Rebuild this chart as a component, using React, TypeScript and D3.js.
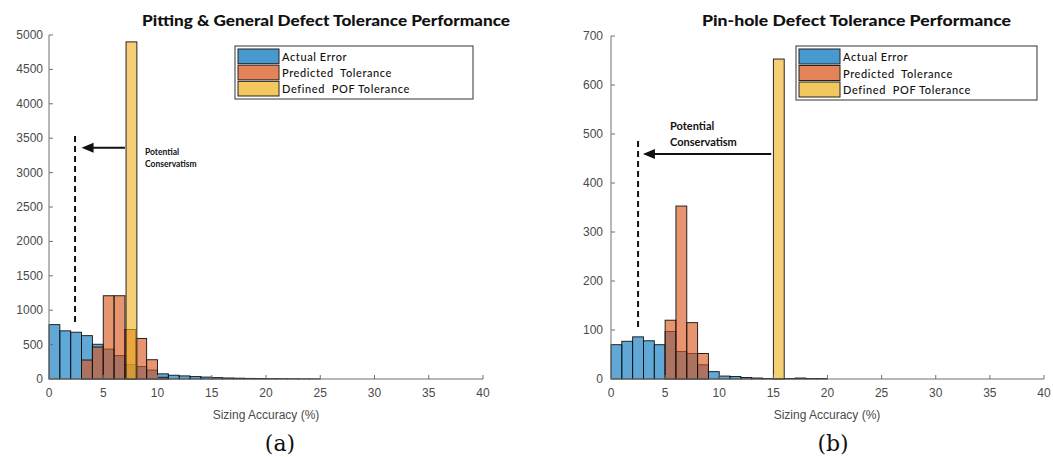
import React from "react";
import * as d3 from "d3";

// ---- Data (bin width 1 %, bins start at binStart) ----
const xTicks = [0, 5, 10, 15, 20, 25, 30, 35, 40];
const legendLabels = ["Actual Error", "Predicted  Tolerance", "Defined  POF Tolerance"];

// Panel (a)
const aTitle = "Pitting & General Defect Tolerance Performance";
const aYTicks = [0, 500, 1000, 1500, 2000, 2500, 3000, 3500, 4000, 4500, 5000];
const aActualStart = 0;
const aActual = [790, 700, 680, 630, 505, 435, 340, 210, 180, 130, 75, 55, 45, 35, 28, 20, 15, 12, 9, 7, 6, 5, 4, 3, 2];
const aPredStart = 3;
const aPred = [276, 465, 1210, 1210, 720, 590, 280, 25];
const aPofStart = 7.1;
const aPof = [4900];
const aDashX = 2.4;
const aDashY = [830, 3580];
const aArrow = { from: 7.0, to: 3.0, y: 3360 };

// Panel (b)
const bTitle = "Pin-hole Defect Tolerance Performance";
const bYTicks = [0, 100, 200, 300, 400, 500, 600, 700];
const bActualStart = 0;
const bActual = [70, 77, 86, 78, 70, 97, 56, 52, 29, 15, 6, 5, 3, 2, 1, 1, 1, 2, 1, 1];
const bPredStart = 5;
const bPred = [120, 353, 115, 52];
const bPofStart = 15;
const bPof = [653];
const bDashX = 2.5;
const bDashY = [106, 492];
const bArrow = { from: 14.8, to: 2.95, y: 459 };

const COLORS = ["#0072BD", "#D95319", "#EDB120"];
const OPACITY = 0.62;
const TICK_FONT = "'Liberation Sans', Arial, sans-serif";
const GEO_FONT = "Lato, 'Noto Sans', sans-serif";

type PanelProps = {
  x0: number; x1: number; y0: number; y1: number;
  yMax: number; yTicks: number[];
  title: string; titleX0: number; titleX1: number;
  series: { start: number; counts: number[] }[];
  dashX: number; dashY: number[];
  arrow: { from: number; to: number; y: number };
  note: { x: number; y: number; size: number };
  legend: { x: number; y: number; w: number; h: number; sw: number };
  labelX: number;
  yLabelGap: number;
};

function Panel(p: PanelProps) {
  const x = d3.scaleLinear().domain([0, 40]).range([p.x0, p.x1]);
  const y = d3.scaleLinear().domain([0, p.yMax]).range([p.y1, p.y0]);
  const axisColor = "#707070";
  const textColor = "#4a4a4a";
  const ah = 9; // arrow head length
  const rowH = p.legend.h / 3;
  return (
    <g>
      {/* bars */}
      {p.series.map((s, si) => (
        <g key={si}>
          {s.counts.map((c, i) => (
            <rect
              key={i}
              x={x(s.start + i)}
              width={x(s.start + i + 1) - x(s.start + i)}
              y={y(c)}
              height={y(0) - y(c)}
              fill={COLORS[si]}
              fillOpacity={OPACITY}
              stroke="#111"
              strokeWidth={0.9}
            />
          ))}
        </g>
      ))}
      {/* axes */}
      <line x1={p.x0} x2={p.x1} y1={p.y1} y2={p.y1} stroke={axisColor} strokeWidth={1} />
      <line x1={p.x0} x2={p.x0} y1={p.y0} y2={p.y1} stroke={axisColor} strokeWidth={1} />
      {xTicks.map((t) => (
        <g key={t}>
          <line x1={x(t)} x2={x(t)} y1={p.y1} y2={p.y1 - 4} stroke={axisColor} />
          <text x={x(t)} y={p.y1 + 18} textAnchor="middle" fontFamily={TICK_FONT} fontSize={12} fill={textColor}>{t}</text>
        </g>
      ))}
      {p.yTicks.map((t) => (
        <g key={t}>
          <line x1={p.x0} x2={p.x0 + 4} y1={y(t)} y2={y(t)} stroke={axisColor} />
          <text x={p.x0 - p.yLabelGap} y={y(t) + 4} textAnchor="end" fontFamily={TICK_FONT} fontSize={12} fill={textColor}>{t}</text>
        </g>
      ))}
      {/* title */}
      <text x={p.titleX0} y={26} fontFamily={GEO_FONT} fontWeight={900} fontSize={15} fill="#111"
        textLength={p.titleX1 - p.titleX0} lengthAdjust="spacingAndGlyphs">{p.title}</text>
      {/* x label */}
      <text x={p.labelX} y={419} textAnchor="middle" fontFamily={TICK_FONT} fontSize={12} fill={textColor}>Sizing Accuracy (%)</text>
      {/* dashed line */}
      <line x1={x(p.dashX)} x2={x(p.dashX)} y1={y(p.dashY[0])} y2={y(p.dashY[1])} stroke="#111" strokeWidth={2} strokeDasharray="6,4" />
      {/* arrow */}
      <line x1={x(p.arrow.from)} x2={x(p.arrow.to) + ah} y1={y(p.arrow.y)} y2={y(p.arrow.y)} stroke="#111" strokeWidth={2} />
      <path d={`M${x(p.arrow.to)},${y(p.arrow.y)} L${x(p.arrow.to) + ah + 3},${y(p.arrow.y) - 5} L${x(p.arrow.to) + ah + 3},${y(p.arrow.y) + 5} Z`} fill="#111" />
      <text fontFamily={GEO_FONT} fontWeight={700} fontSize={p.note.size} fill="#111">
        <tspan x={p.note.x} y={p.note.y}>Potential</tspan>
        <tspan x={p.note.x} y={p.note.y + p.note.size * 1.45}>Conservatism</tspan>
      </text>
      {/* legend */}
      <rect x={p.legend.x} y={p.legend.y} width={p.legend.w} height={p.legend.h} fill="#fff" stroke="#333" strokeWidth={1} />
      {legendLabels.map((l, i) => (
        <g key={l}>
          <rect x={p.legend.x + 3} y={p.legend.y + 3 + i * (rowH - 1.5)} width={p.legend.sw} height={rowH - 3}
            fill={COLORS[i]} fillOpacity={OPACITY + 0.1} stroke="#222" strokeWidth={1} />
          <text x={p.legend.x + p.legend.sw + 6} y={p.legend.y + 3 + i * (rowH - 1.5) + rowH - 6}
            fontFamily={GEO_FONT} fontWeight={500} fontSize={11} letterSpacing={0.6} fill="#111"
            style={{ whiteSpace: "pre" }}>{l}</text>
        </g>
      ))}
    </g>
  );
}

export default function App() {
  return (
    <svg width={1053} height={457} style={{ position: "absolute", left: 0, top: 0, background: "#fff" }}>
      <rect x={0} y={0} width={1053} height={457} fill="#fff" />
      <Panel
        x0={49} x1={483} y0={35} y1={379} yMax={5000} yTicks={aYTicks}
        title={aTitle} titleX0={142} titleX1={510}
        series={[
          { start: aActualStart, counts: aActual },
          { start: aPredStart, counts: aPred },
          { start: aPofStart, counts: aPof },
        ]}
        dashX={aDashX} dashY={aDashY} arrow={aArrow}
        note={{ x: 145, y: 155, size: 8.5 }}
        legend={{ x: 235, y: 46, w: 238, h: 53, sw: 41 }}
        labelX={266} yLabelGap={6}
      />
      <Panel
        x0={611} x1={1044} y0={36} y1={379} yMax={700} yTicks={bYTicks}
        title={bTitle} titleX0={702} titleX1={1011}
        series={[
          { start: bActualStart, counts: bActual },
          { start: bPredStart, counts: bPred },
          { start: bPofStart, counts: bPof },
        ]}
        dashX={bDashX} dashY={bDashY} arrow={bArrow}
        note={{ x: 670, y: 130, size: 11 }}
        legend={{ x: 796, y: 46, w: 241, h: 54, sw: 41 }}
        labelX={827} yLabelGap={8}
      />
      <text x={280} y={451} textAnchor="middle" fontFamily="'DejaVu Serif', serif" fontSize={22} fill="#111">(a)</text>
      <text x={833} y={451} textAnchor="middle" fontFamily="'DejaVu Serif', serif" fontSize={22} fill="#111">(b)</text>
    </svg>
  );
}
